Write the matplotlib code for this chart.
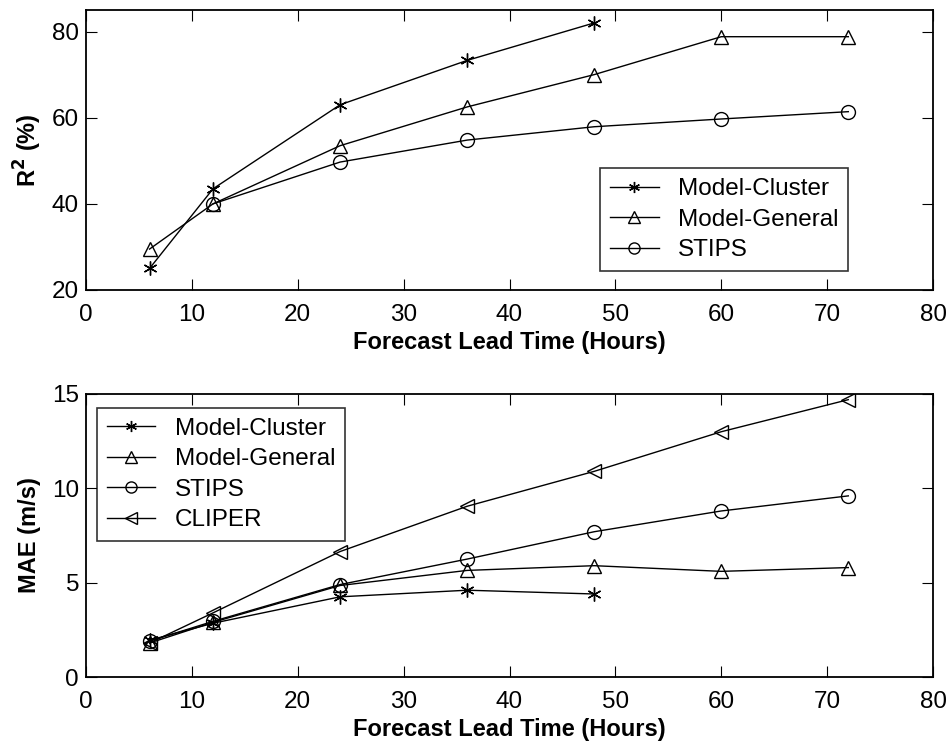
"""
Forecast skill vs lead time: R^2 (top) and MAE (bottom).
"""

import matplotlib
matplotlib.use("Agg")
import matplotlib.pyplot as plt

plt.rcParams['font.family'] = ['Liberation Sans', 'DejaVu Sans']

# lead times (hours)
lead_cluster = [6, 12, 24, 36, 48]
lead_all = [6, 12, 24, 36, 48, 60, 72]
lead_stips_r2 = [12, 24, 36, 48, 60, 72]

# top panel: R^2 (%)
r2_cluster = [25, 43.5, 63, 73.3, 82]
r2_general = [29.5, 40, 53.5, 62.5, 70, 78.8, 78.8]
r2_stips = [40, 49.7, 54.8, 57.9, 59.7, 61.4]

# bottom panel: MAE (m/s)
mae_cluster = [1.95, 2.85, 4.25, 4.6, 4.4]
mae_general = [1.8, 2.9, 4.85, 5.65, 5.9, 5.6, 5.8]
mae_stips = [1.9, 2.95, 4.9, 6.25, 7.7, 8.8, 9.6]
mae_cliper = [1.8, 3.4, 6.65, 9.05, 10.9, 13.0, 14.7]

asterisk = (6, 2, 0)
ms = 10
fs_tick = 17.5
fs_label = 17


def style_axes(ax, ylim, yticks):
    ax.set_xlim(0, 80)
    ax.set_ylim(*ylim)
    ax.set_xticks(range(0, 81, 10))
    ax.set_yticks(yticks)
    ax.tick_params(direction='in', top=True, right=True, length=8,
                   labelsize=fs_tick, pad=5)
    ax.tick_params(axis='x', pad=10)
    for s in ax.spines.values():
        s.set_linewidth(1.3)
    ax.set_xlabel('Forecast Lead Time (Hours)', fontsize=fs_label,
                  fontweight='bold', labelpad=4)


def make_legend(ax, loc, anchor):
    leg = ax.legend(loc=loc, bbox_to_anchor=anchor, fontsize=fs_tick,
                    frameon=True, fancybox=False, edgecolor='k',
                    handlelength=2.0, handletextpad=0.8, borderpad=0.4,
                    labelspacing=0.35, borderaxespad=0, markerscale=0.8)
    leg.get_frame().set_linewidth(1.2)
    return leg


fig = plt.figure(figsize=(9.46, 7.45), dpi=100)

# Subplot 1
ax1 = fig.add_axes([86 / 946, 1 - 290 / 745, 847 / 946, 280 / 745])
ax1.plot(lead_cluster, r2_cluster, color='k', lw=1, marker=asterisk, ms=ms,
         mew=1, label='Model-Cluster')
ax1.plot(lead_all, r2_general, color='k', lw=1, marker='^', ms=ms, mfc='none',
         mew=1, label='Model-General')
ax1.plot(lead_stips_r2, r2_stips, color='k', lw=1, marker='o', ms=ms, mfc='none',
         mew=1, label='STIPS')
style_axes(ax1, (20, 85), [20, 40, 60, 80])
ax1.set_ylabel('R$^\\mathbf{2}$ (%)', fontsize=fs_label, fontweight='bold',
               labelpad=6)
make_legend(ax1, 'lower right', (0.9, 0.068))

# Subplot 2
ax2 = fig.add_axes([86 / 946, 1 - 677 / 745, 847 / 946, 283 / 745])
ax2.plot(lead_cluster, mae_cluster, color='k', lw=1, marker=asterisk, ms=ms,
         mew=1, label='Model-Cluster')
ax2.plot(lead_all, mae_general, color='k', lw=1, marker='^', ms=ms, mfc='none',
         mew=1, label='Model-General')
ax2.plot(lead_all, mae_stips, color='k', lw=1, marker='o', ms=ms, mfc='none',
         mew=1, label='STIPS')
ax2.plot(lead_all, mae_cliper, color='k', lw=1, marker='<', ms=ms, mfc='none',
         mew=1, label='CLIPER')
style_axes(ax2, (0, 15), [0, 5, 10, 15])
ax2.set_ylabel('MAE (m/s)', fontsize=fs_label, fontweight='bold', labelpad=8)
make_legend(ax2, 'upper left', (0.013, 0.95))

plt.savefig('out.png')
